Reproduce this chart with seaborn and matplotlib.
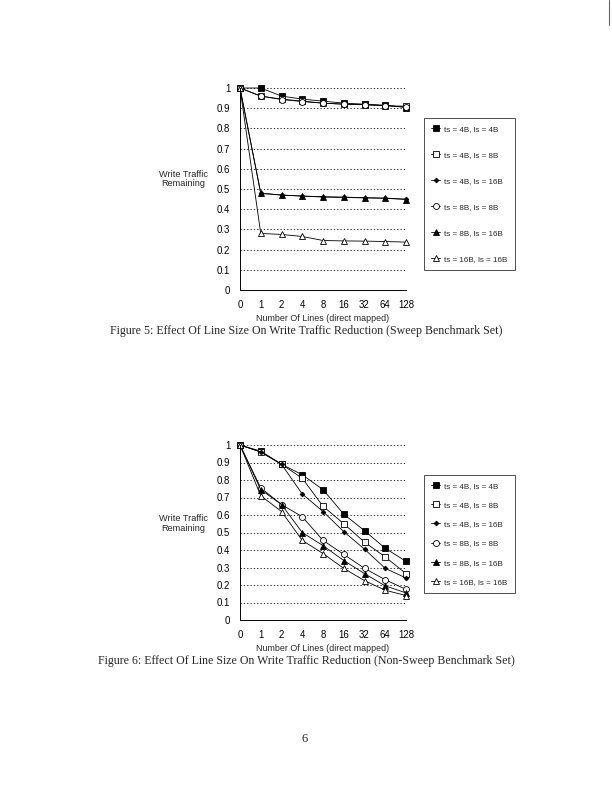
import pandas as pd
import matplotlib.pyplot as plt
import seaborn as sns
from matplotlib.lines import Line2D

# datos
lineas = ['0', '1', '2', '4', '8', '16', '32', '64', '128']
series = ['ts = 4B, ls = 4B', 'ts = 4B, ls = 8B', 'ts = 4B, ls = 16B',
          'ts = 8B, ls = 8B', 'ts = 8B, ls = 16B', 'ts = 16B, ls = 16B']

# Figura 5 (sweep)
sweep_4_4 = [1.0, 1.0, 0.96, 0.945, 0.935, 0.925, 0.92, 0.915, 0.903]
sweep_4_8 = [1.0, 0.96, 0.945, 0.935, 0.925, 0.92, 0.918, 0.912, 0.91]
sweep_4_16 = [1.0, 0.48, 0.47, 0.465, 0.462, 0.46, 0.457, 0.455, 0.45]
sweep_8_8 = [1.0, 0.96, 0.943, 0.933, 0.925, 0.92, 0.917, 0.912, 0.906]
sweep_8_16 = [1.0, 0.478, 0.47, 0.465, 0.46, 0.458, 0.456, 0.454, 0.448]
sweep_16_16 = [1.0, 0.28, 0.275, 0.265, 0.245, 0.243, 0.242, 0.24, 0.237]

# Figura 6 (non-sweep)
nosweep_4_4 = [1.0, 0.965, 0.89, 0.83, 0.745, 0.605, 0.51, 0.41, 0.335]
nosweep_4_8 = [1.0, 0.96, 0.89, 0.81, 0.65, 0.55, 0.445, 0.36, 0.265]
nosweep_4_16 = [1.0, 0.96, 0.89, 0.72, 0.62, 0.505, 0.405, 0.295, 0.24]
nosweep_8_8 = [1.0, 0.755, 0.66, 0.59, 0.455, 0.375, 0.295, 0.23, 0.175]
nosweep_8_16 = [1.0, 0.745, 0.66, 0.50, 0.425, 0.34, 0.265, 0.195, 0.155]
nosweep_16_16 = [1.0, 0.71, 0.62, 0.455, 0.38, 0.295, 0.225, 0.17, 0.14]

sweep = [sweep_4_4, sweep_4_8, sweep_4_16, sweep_8_8, sweep_8_16, sweep_16_16]
nosweep = [nosweep_4_4, nosweep_4_8, nosweep_4_16, nosweep_8_8, nosweep_8_16, nosweep_16_16]

# marcador, relleno, tamano
estilos = [('s', 'black', 3.8), ('s', 'white', 4.8), ('D', 'black', 2.4),
           ('o', 'white', 4.3), ('^', 'black', 3.9), ('^', 'white', 4.8)]

sns.set_style('white')
plt.rcParams['font.family'] = ['Liberation Sans', 'DejaVu Sans']

W, H = 612, 791
fig = plt.figure(figsize=(W / 100, H / 100), dpi=100)


def dibujar(datos, top, bottom, legend_top, legend_bottom, caption_y, caption):
    ax = fig.add_axes([240 / W, 1 - bottom / H, 166 / W, (bottom - top) / H])
    for nombre, valores, (m, fc, ms) in zip(series, datos, estilos):
        df = pd.DataFrame({'x': range(len(lineas)), 'y': valores})
        sns.lineplot(data=df, x='x', y='y', ax=ax, color='black', lw=0.6,
                     marker=m, markerfacecolor=fc, markeredgecolor='black',
                     markersize=ms, markeredgewidth=0.6, label=nombre, clip_on=False)
    ax.set_xlim(0, len(lineas) - 1)
    ax.set_ylim(0, 1)
    ax.set_xticks(range(len(lineas)))
    ax.set_xticklabels(lineas)
    ax.set_yticks([i / 10 for i in range(11)])
    ax.set_yticklabels(['0'] + ['0.%d' % i for i in range(1, 10)] + ['1'])
    for i in range(1, 11):
        ax.axhline(i / 10, color='black', lw=0.6, ls=(0, (1.5, 2.5)), zorder=0)
    ax.tick_params(axis='both', direction='inout', length=4, width=0.6,
                   labelsize=6.9, colors='black', pad=5)
    for s in ['top', 'right']:
        ax.spines[s].set_visible(False)
    for s in ['left', 'bottom']:
        ax.spines[s].set_linewidth(0.7)
        ax.spines[s].set_color('black')
    ax.set_xlabel('Number Of Lines (direct mapped)', fontsize=6.4, labelpad=3)
    ax.set_ylabel('')
    h = bottom - top
    ymid = 1 - ((legend_top + legend_bottom) / 2 - top) / h
    leg = ax.legend(loc='center left', bbox_to_anchor=(1.108, ymid), fontsize=5.8,
                    frameon=True, fancybox=False, edgecolor='black',
                    handlelength=1.1, handletextpad=0.5,
                    labelspacing=(legend_bottom - legend_top - 6 * 8) / 5 / 8.1,
                    borderpad=0.9, borderaxespad=0)
    leg.get_frame().set_linewidth(0.6)
    fig.text(183 / W, 1 - (top + 0.45 * h) / H, 'Write Traffic\nRemaining',
             fontsize=6.6, ha='center', va='center', linespacing=1.1)
    fig.text(306 / W, 1 - caption_y / H, caption, fontsize=8.6,
             family=['Liberation Serif'], ha='center', va='center')


dibujar(sweep, 88, 290, 124, 264, 331,
        'Figure 5: Effect Of Line Size On Write Traffic Reduction (Sweep Benchmark Set)')
dibujar(nosweep, 445, 620, 481, 587, 661,
        'Figure 6: Effect Of Line Size On Write Traffic Reduction (Non-Sweep Benchmark Set)')

fig.text(305 / W, 1 - 739 / H, '6', fontsize=9, family=['Liberation Serif'],
         ha='center', va='center')
fig.add_artist(Line2D([609 / W, 609 / W], [1, 1 - 25 / H], color='0.4', lw=0.8))

plt.savefig('out.png', dpi=100)
